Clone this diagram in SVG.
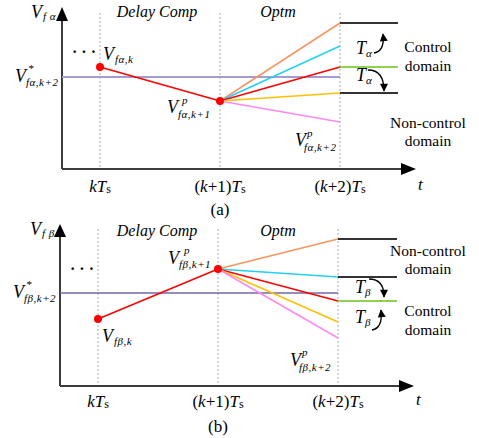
<svg xmlns="http://www.w3.org/2000/svg" width="479" height="438" viewBox="0 0 479 438">
<defs>
<style>
text{font-family:'Times New Roman','Liberation Serif','DejaVu Serif',serif;fill:#000}
.it{font-style:italic}
.v{font-size:18px;font-style:italic}
.sub{font-size:11px;font-style:italic;letter-spacing:0.5px}
.lbl{font-size:15.5px}
.tl{font-size:17px}
.hd{font-size:16px;font-style:italic}
.axis{stroke:#3c3c3c;stroke-width:2;fill:none}
.dot{stroke:#aaaaaa;stroke-width:1;stroke-dasharray:2,2;fill:none}
.ln{stroke-width:1.5;fill:none}
.blk{stroke:#333;stroke-width:2;fill:none}
.grn{stroke:#92D050;stroke-width:2;fill:none}
.arr{stroke:#000;stroke-width:1.3;fill:none;marker-end:url(#ah)}
</style>
<marker id="ah" viewBox="0 0 10 10" refX="9" refY="5" markerWidth="9" markerHeight="8" markerUnits="userSpaceOnUse" orient="auto"><path d="M0,0 L10,5 L0,10 z" fill="#000"/></marker>
</defs>

<!-- Panel (a) -->
<g id="panel-a">
<g id="axes-a">
<line class="axis" x1="62" y1="169" x2="62" y2="18"/>
<polygon points="62,7 56,21 68,21" fill="#000"/>
<line class="axis" x1="62" y1="169" x2="404" y2="169"/>
<polygon points="416,169 401,163 401,175" fill="#000"/>
<line class="dot" x1="100" y1="13" x2="100" y2="168"/>
<line class="dot" x1="220" y1="13" x2="220" y2="168"/>
<line class="dot" x1="340" y1="13" x2="340" y2="168"/>
</g>
<g id="lines-a">
<line x1="62" y1="77" x2="340" y2="77" stroke="#A89BCF" stroke-width="2"/>
<line class="ln" stroke="#FF0000" x1="100" y1="67" x2="220" y2="101"/>
<line class="ln" stroke="#F79463" x1="220" y1="101" x2="340" y2="23"/>
<line class="ln" stroke="#22D0F5" x1="220" y1="101" x2="340" y2="46"/>
<line class="ln" stroke="#FF0000" x1="220" y1="101" x2="340" y2="67"/>
<line class="ln" stroke="#FFC000" x1="220" y1="101" x2="340" y2="93"/>
<line class="ln" stroke="#FF88EE" x1="220" y1="101" x2="340" y2="122"/>
<line class="blk" x1="340" y1="23" x2="398" y2="23"/>
<line class="grn" x1="340" y1="67" x2="398" y2="67"/>
<line class="blk" x1="340" y1="93" x2="398" y2="93"/>
<path class="arr" d="M374,53 Q385,51 383,34"/>
<path class="arr" d="M368,70 Q384,70 384,91"/>
</g>
<g id="points-a">
<circle cx="100" cy="67" r="4" fill="#FF0000"/>
<circle cx="220" cy="101" r="4" fill="#FF0000"/>
</g>
<g id="labels-a">
<text x="31" y="18"><tspan class="v">V</tspan><tspan class="sub" dx="1" dy="2">f α</tspan></text>
<text x="157" y="17" class="hd" text-anchor="middle">Delay Comp</text>
<text x="278" y="17" class="hd" text-anchor="middle">Optm</text>
<text x="72" y="57" style="font-size:16px;font-weight:bold">· · ·</text>
<text x="103" y="60"><tspan class="v">V</tspan><tspan class="sub" dx="1" dy="3">fα,k</tspan></text>
<text x="15" y="82" class="v">V</text>
<text x="28" y="72" class="sub">*</text>
<text x="26" y="86" class="sub">fα,k+2</text>
<text x="167" y="113" class="v">V</text>
<text x="182" y="104" class="sub">p</text>
<text x="178" y="118" class="sub">fα,k+1</text>
<text x="295" y="146" class="v">V</text>
<text x="307" y="137" class="sub">p</text>
<text x="304" y="151" class="sub">fα,k+2</text>
<text x="356" y="54"><tspan class="v">T</tspan><tspan class="sub" dy="3">α</tspan></text>
<text x="356" y="81"><tspan class="v">T</tspan><tspan class="sub" dy="3">α</tspan></text>
<text x="428" y="52" class="lbl" text-anchor="middle">Control</text>
<text x="428" y="71" class="lbl" text-anchor="middle">domain</text>
<text x="428" y="128" class="lbl" text-anchor="middle">Non-control</text>
<text x="428" y="146" class="lbl" text-anchor="middle">domain</text>
<text x="100" y="192" class="tl" text-anchor="middle"><tspan class="it">kT</tspan><tspan font-size="12" dy="1">s</tspan></text>
<text x="220" y="192" class="tl" text-anchor="middle">(<tspan class="it">k</tspan>+1)<tspan class="it">T</tspan><tspan font-size="12" dy="1">s</tspan></text>
<text x="340" y="192" class="tl" text-anchor="middle">(<tspan class="it">k</tspan>+2)<tspan class="it">T</tspan><tspan font-size="12" dy="1">s</tspan></text>
<text x="418" y="190" class="tl it">t</text>
<text x="220" y="215" class="tl" text-anchor="middle">(a)</text>
</g>
</g>

<!-- Panel (b) -->
<g id="panel-b">
<g id="axes-b">
<line class="axis" x1="60" y1="386" x2="60" y2="234"/>
<polygon points="60,224 54,237 66,237" fill="#000"/>
<line class="axis" x1="60" y1="386" x2="402" y2="386"/>
<polygon points="414,386 399,380 399,392" fill="#000"/>
<line class="dot" x1="98" y1="229" x2="98" y2="385"/>
<line class="dot" x1="218" y1="229" x2="218" y2="385"/>
<line class="dot" x1="338" y1="229" x2="338" y2="385"/>
</g>
<g id="lines-b">
<line x1="60" y1="293" x2="338" y2="293" stroke="#7566A8" stroke-width="1.5"/>
<line class="ln" stroke="#FF0000" x1="98" y1="319" x2="218" y2="269"/>
<line class="ln" stroke="#F79463" x1="218" y1="269" x2="338" y2="239"/>
<line class="ln" stroke="#22D0F5" x1="218" y1="269" x2="338" y2="277"/>
<line class="ln" stroke="#FF0000" x1="218" y1="269" x2="338" y2="301"/>
<line class="ln" stroke="#FFC000" x1="218" y1="269" x2="338" y2="322"/>
<line class="ln" stroke="#FF88EE" x1="218" y1="269" x2="338" y2="338"/>
<line class="blk" x1="338" y1="239" x2="397" y2="239"/>
<line class="blk" x1="338" y1="277" x2="397" y2="277"/>
<line class="grn" x1="338" y1="301" x2="397" y2="301"/>
<path class="arr" d="M369,279 Q384,279 384,297"/>
<path class="arr" d="M372,330 Q383,328 381,310"/>
</g>
<g id="points-b">
<circle cx="98" cy="319" r="4" fill="#FF0000"/>
<circle cx="218" cy="269" r="4" fill="#FF0000"/>
</g>
<g id="labels-b">
<text x="30" y="235"><tspan class="v">V</tspan><tspan class="sub" dx="1" dy="2">f β</tspan></text>
<text x="157" y="236" class="hd" text-anchor="middle">Delay Comp</text>
<text x="278" y="236" class="hd" text-anchor="middle">Optm</text>
<text x="70" y="274" style="font-size:16px;font-weight:bold">· · ·</text>
<text x="13" y="298" class="v">V</text>
<text x="26" y="288" class="sub">*</text>
<text x="24" y="302" class="sub">fβ,k+2</text>
<text x="168" y="264" class="v">V</text>
<text x="184" y="254" class="sub">p</text>
<text x="179" y="268" class="sub">fβ,k+1</text>
<text x="102" y="342"><tspan class="v">V</tspan><tspan class="sub" dx="1" dy="3">fβ,k</tspan></text>
<text x="290" y="366" class="v">V</text>
<text x="302" y="356" class="sub">p</text>
<text x="299" y="371" class="sub">fβ,k+2</text>
<text x="355" y="293"><tspan class="v">T</tspan><tspan class="sub" dy="3">β</tspan></text>
<text x="355" y="323"><tspan class="v">T</tspan><tspan class="sub" dy="3">β</tspan></text>
<text x="428" y="256" class="lbl" text-anchor="middle">Non-control</text>
<text x="428" y="274" class="lbl" text-anchor="middle">domain</text>
<text x="428" y="316" class="lbl" text-anchor="middle">Control</text>
<text x="428" y="335" class="lbl" text-anchor="middle">domain</text>
<text x="98" y="407" class="tl" text-anchor="middle"><tspan class="it">kT</tspan><tspan font-size="12" dy="1">s</tspan></text>
<text x="218" y="407" class="tl" text-anchor="middle">(<tspan class="it">k</tspan>+1)<tspan class="it">T</tspan><tspan font-size="12" dy="1">s</tspan></text>
<text x="338" y="407" class="tl" text-anchor="middle">(<tspan class="it">k</tspan>+2)<tspan class="it">T</tspan><tspan font-size="12" dy="1">s</tspan></text>
<text x="416" y="405" class="tl it">t</text>
<text x="218" y="432" class="tl" text-anchor="middle">(b)</text>
</g>
</g>
</svg>
